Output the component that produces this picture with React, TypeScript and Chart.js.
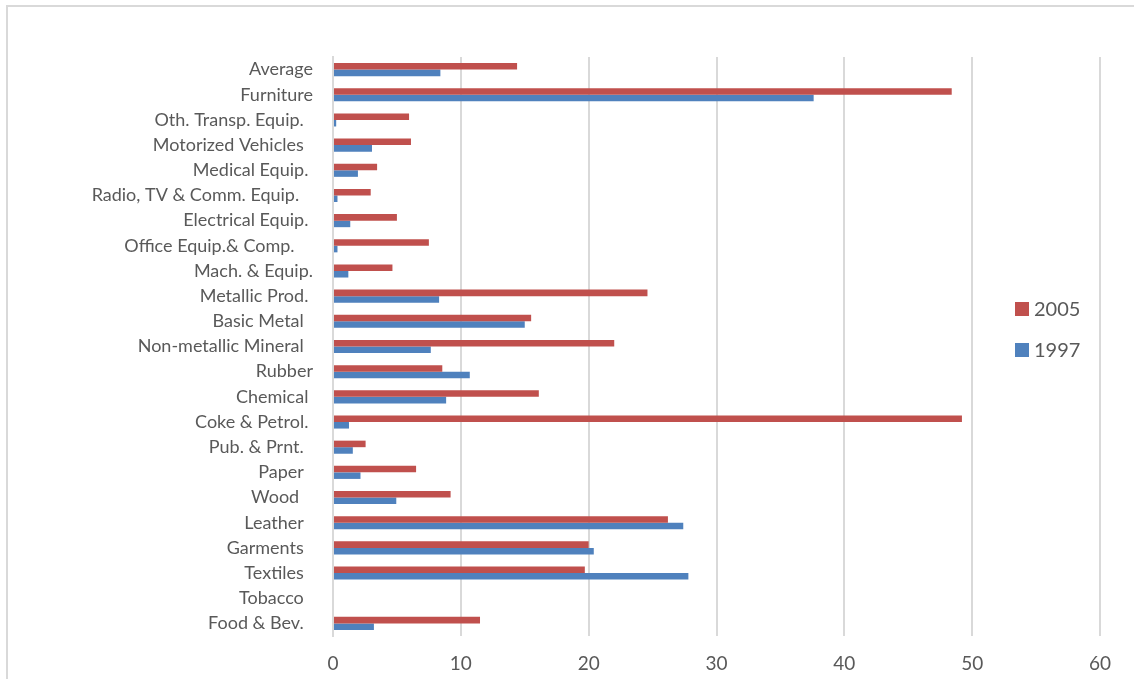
import React, { useEffect, useRef } from "react";
import { Chart, registerables } from "chart.js";

Chart.register(...registerables);

// Industry categories, listed from top to bottom
const categories: string[] = [
  "Average",
  "Furniture",
  "Oth. Transp. Equip.  ",
  "Motorized Vehicles  ",
  "Medical Equip. ",
  "Radio, TV & Comm. Equip.   ",
  "Electrical Equip. ",
  "Office Equip.& Comp.    ",
  "Mach. & Equip.",
  "Metallic Prod. ",
  "Basic Metal  ",
  "Non-metallic Mineral  ",
  "Rubber",
  "Chemical ",
  "Coke & Petrol. ",
  "Pub. & Prnt.  ",
  "Paper  ",
  "Wood   ",
  "Leather  ",
  "Garments  ",
  "Textiles  ",
  "Tobacco  ",
  "Food & Bev.  ",
];

const values2005: number[] = [
  14.4, 48.4, 5.95, 6.1, 3.45, 2.95, 5.0, 7.5, 4.65, 24.6, 15.5, 22.0, 8.55,
  16.1, 49.2, 2.55, 6.5, 9.2, 26.2, 20.0, 19.7, 0, 11.5,
];

const values1997: number[] = [
  8.4, 37.6, 0.25, 3.05, 1.95, 0.35, 1.35, 0.35, 1.2, 8.3, 15.0, 7.65, 10.7,
  8.85, 1.25, 1.55, 2.15, 4.95, 27.4, 20.4, 27.8, 0, 3.2,
];

const seriesNames: string[] = ["2005", "1997"];
const seriesColors: string[] = ["#C0504D", "#4F81BD"];
const xTicks: number[] = [0, 10, 20, 30, 40, 50, 60];

const FONT = "Lato, 'Open Sans', sans-serif";
const TEXT = "#595959";

// Legend drawn inside the plot's right margin, beside the 50–60 band
const sideLegend = {
  id: "sideLegend",
  afterDraw(chart: any) {
    const ctx = chart.ctx;
    ctx.save();
    ctx.font = `20px ${FONT}`;
    ctx.textBaseline = "middle";
    ctx.textAlign = "left";
    chart.data.datasets.forEach((ds: any, i: number) => {
      const cy = 309 + i * 41;
      ctx.fillStyle = ds.backgroundColor;
      ctx.fillRect(1015, cy - 7, 14, 14);
      ctx.fillStyle = TEXT;
      ctx.fillText(ds.label, 1034, cy + 1);
    });
    ctx.restore();
  },
};

export default function App() {
  const canvasRef = useRef<HTMLCanvasElement | null>(null);

  useEffect(() => {
    if (!canvasRef.current) return;
    const chart = new Chart(canvasRef.current, {
      type: "bar",
      data: {
        labels: categories,
        datasets: [
          {
            label: seriesNames[0],
            data: values2005,
            backgroundColor: seriesColors[0],
            categoryPercentage: 0.52,
            barPercentage: 1,
          },
          {
            label: seriesNames[1],
            data: values1997,
            backgroundColor: seriesColors[1],
            categoryPercentage: 0.52,
            barPercentage: 1,
          },
        ],
      },
      options: {
        indexAxis: "y",
        animation: false,
        responsive: true,
        maintainAspectRatio: false,
        layout: { padding: { top: 57, right: 34, left: 0, bottom: 0 } },
        plugins: {
          legend: { display: false },
          tooltip: { enabled: false },
        },
        scales: {
          x: {
            min: 0,
            max: 60,
            afterBuildTicks(scale: any) {
              scale.ticks = xTicks.map((v) => ({ value: v }));
            },
            afterFit(scale: any) {
              scale.height = 43;
            },
            grid: {
              color: "#d9d9d9",
              lineWidth: 2,
              drawTicks: false,
            },
            border: { display: false },
            ticks: {
              color: TEXT,
              font: { family: FONT, size: 19 },
              padding: 16,
            },
          },
          y: {
            afterFit(scale: any) {
              scale.width = 333;
            },
            grid: { display: false, drawTicks: false },
            border: { display: true, color: "#d9d9d9", width: 2 },
            ticks: {
              color: TEXT,
              font: { family: FONT, size: 18 },
              padding: 20,
              autoSkip: false,
            },
          },
        },
      },
      plugins: [sideLegend],
    });
    return () => chart.destroy();
  }, []);

  return (
    <div
      style={{
        position: "fixed",
        left: 0,
        top: 0,
        width: 1134,
        height: 679,
        background: "#fff",
      }}
    >
      <div
        style={{
          position: "absolute",
          left: 6,
          top: 5,
          width: 1200,
          height: 760,
          border: "2px solid #d9d9d9",
          boxSizing: "border-box",
        }}
      />
      <div style={{ position: "absolute", left: 0, top: 0, width: 1134, height: 679 }}>
        <canvas ref={canvasRef} />
      </div>
    </div>
  );
}
